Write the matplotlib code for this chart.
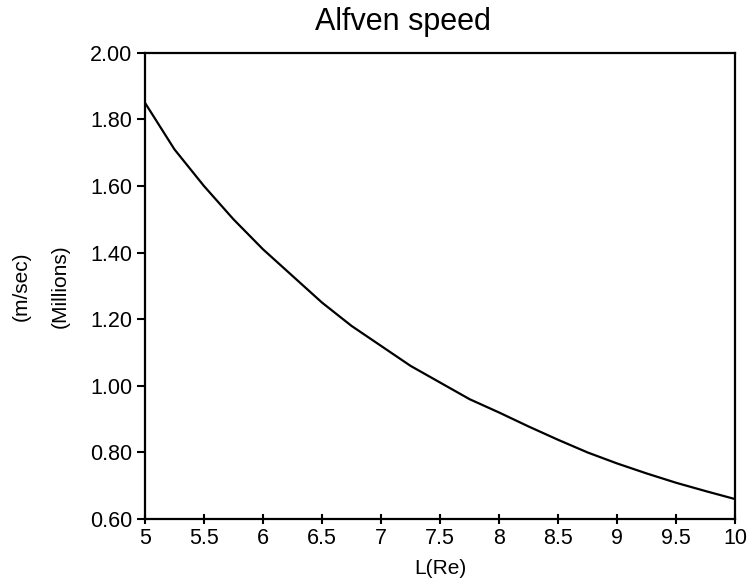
import numpy as np
import matplotlib
matplotlib.use("Agg")
import matplotlib.pyplot as plt

plt.rcParams['font.family'] = ['Liberation Sans', 'DejaVu Sans']

# values
L_re = [5.0, 5.25, 5.5, 5.75, 6.0, 6.25, 6.5, 6.75, 7.0, 7.25, 7.5,
        7.75, 8.0, 8.25, 8.5, 8.75, 9.0, 9.25, 9.5, 9.75, 10.0]
speed_millions = [1.85, 1.71, 1.60, 1.50, 1.41, 1.33, 1.25, 1.18, 1.12, 1.06, 1.01,
                  0.96, 0.92, 0.878, 0.838, 0.80, 0.767, 0.737, 0.709, 0.684, 0.66]

x_ticks = [5, 5.5, 6, 6.5, 7, 7.5, 8, 8.5, 9, 9.5, 10]
x_ticklabels = ['5', '5.5', '6', '6.5', '7', '7.5', '8', '8.5', '9', '9.5', '10']
y_ticks = [0.6, 0.8, 1.0, 1.2, 1.4, 1.6, 1.8, 2.0]

fig = plt.figure(figsize=(7.51, 5.80), dpi=100)
ax = fig.add_axes([0.193, 0.105, 0.786, 0.804])

ax.plot(L_re, speed_millions, color='k', lw=1.6)

ax.set_xlim(5, 10)
ax.set_ylim(0.6, 2.0)
ax.set_xticks(x_ticks)
ax.set_xticklabels(x_ticklabels)
ax.set_yticks(y_ticks)
ax.set_yticklabels(['%.2f' % v for v in y_ticks])

for s in ax.spines.values():
    s.set_linewidth(1.6)

ax.tick_params(axis='y', direction='out', length=6, width=1.5, pad=3, labelsize=15.5)
ax.tick_params(axis='x', direction='inout', length=7, width=1.5, pad=3, labelsize=15.5)

ax.set_xlabel('L(Re)', fontsize=15, labelpad=7)
ax.text(-0.144, 0.5, '(Millions)', transform=ax.transAxes, rotation=90,
        ha='center', va='center', fontsize=15)
ax.text(-0.210, 0.5, '(m/sec)', transform=ax.transAxes, rotation=90,
        ha='center', va='center', fontsize=15)

fig.text(0.536, 0.948, 'Alfven speed', ha='center', va='baseline', fontsize=22)

fig.savefig('out.png', dpi=100)
